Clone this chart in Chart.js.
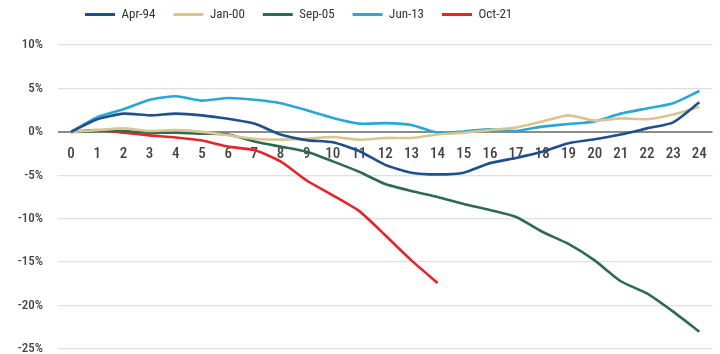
<!DOCTYPE html>
<html>
<head>
<meta charset="utf-8">
<script src="https://cdn.jsdelivr.net/npm/chart.js@4/dist/chart.umd.min.js"></script>
<style>
  html, body { margin: 0; padding: 0; background: #fff; }
  #wrap { width: 720px; height: 354px; position: relative; }
</style>
</head>
<body>
<div id="wrap"><canvas id="c"></canvas></div>
<script>
// Months since the start of each episode
const months = ['0','1','2','3','4','5','6','7','8','9','10','11','12','13','14','15','16','17','18','19','20','21','22','23','24'];

// Cumulative change (%) for each episode
const apr94 = [0, 1.45, 2.1, 1.9, 2.1, 1.9, 1.5, 0.95, -0.3, -0.95, -1.2, -2.2, -3.8, -4.7, -4.9, -4.7, -3.6, -3.0, -2.3, -1.3, -0.85, -0.3, 0.4, 1.1, 3.4];
const jan00 = [0, 0.2, 0.4, 0.1, 0.2, 0.0, -0.4, -0.8, -0.9, -0.8, -0.6, -0.9, -0.7, -0.7, -0.3, -0.1, 0.2, 0.5, 1.2, 1.9, 1.3, 1.55, 1.45, 2.0, 2.9];
const sep05 = [0, 0.1, 0.1, -0.1, -0.1, -0.2, -0.3, -1.1, -1.7, -2.3, -3.4, -4.6, -6.0, -6.8, -7.5, -8.3, -9.0, -9.8, -11.5, -12.9, -14.8, -17.2, -18.6, -20.7, -23.0];
const jun13 = [0, 1.7, 2.6, 3.7, 4.1, 3.6, 3.9, 3.7, 3.3, 2.5, 1.6, 0.95, 1.0, 0.8, -0.1, 0.05, 0.3, 0.1, 0.6, 0.9, 1.2, 2.1, 2.7, 3.3, 4.7];
const oct21 = [0, 0.2, -0.1, -0.4, -0.65, -1.0, -1.7, -2.1, -3.4, -5.6, -7.3, -9.1, -11.9, -14.8, -17.4];

const seriesNames = ['Apr-94', 'Jan-00', 'Sep-05', 'Jun-13', 'Oct-21'];
const seriesColors = ['#1f4f8d', '#d8c592', '#2f6b50', '#2aa7d6', '#e3262a'];
const seriesValues = [apr94, jan00, sep05, jun13, oct21];

// y-axis range and step (%)
const yMin = -25, yMax = 10, yStep = 5;

const FONT = "'Roboto Condensed', 'Liberation Sans Narrow', 'DejaVu Sans Condensed', Roboto, sans-serif";

// Places the legend row at a fixed spot above the plot
const legendPlacer = {
  id: 'legendPlacer',
  afterLayout(chart) {
    const lg = chart.legend;
    if (!lg) return;
    lg.left = 67;
    lg.top = -10;
  }
};

new Chart(document.getElementById('c'), {
  type: 'line',
  data: {
    labels: months,
    datasets: seriesValues.map((vals, i) => ({
      label: seriesNames[i],
      data: vals,
      borderColor: seriesColors[i],
      backgroundColor: seriesColors[i],
      borderWidth: 2.6,
      pointRadius: 0,
      tension: 0.2,
      fill: false
    }))
  },
  options: {
    responsive: true,
    maintainAspectRatio: false,
    animation: false,
    layout: { padding: { top: 4, right: 7, bottom: 5, left: 0 } },
    plugins: {
      tooltip: { enabled: false },
      legend: {
        position: 'top',
        align: 'start',
        labels: {
          boxWidth: 30,
          boxHeight: 3,
          padding: 18,
          color: '#333',
          font: { family: FONT, size: 13 },
          generateLabels(chart) {
            return Chart.defaults.plugins.legend.labels.generateLabels(chart).map(l => {
              l.fillStyle = l.strokeStyle;
              l.lineWidth = 0;
              return l;
            });
          }
        }
      }
    },
    scales: {
      x: {
        type: 'category',
        offset: true,
        position: { y: 0 },
        afterFit(scale) {
          // the month labels sit inside the plot, under the zero line
          scale.height = 0;
          scale.paddingTop = 0;
          scale.paddingBottom = 0;
        },
        grid: { display: false, drawTicks: false },
        border: { display: false },
        ticks: {
          color: '#444',
          padding: 13,
          autoSkip: false,
          maxRotation: 0,
          font: { family: FONT, size: 15, weight: '500' }
        }
      },
      y: {
        min: yMin,
        max: yMax,
        afterFit(scale) {
          scale.width = 58;
          scale.paddingBottom = 0;
        },
        border: { display: false },
        grid: {
          drawTicks: false,
          color: ctx => (ctx.tick && ctx.tick.value === 0) ? '#8c8c8c' : '#e0e0e0',
          lineWidth: ctx => (ctx.tick && ctx.tick.value === 0) ? 2 : 1.3
        },
        ticks: {
          stepSize: yStep,
          padding: 15,
          color: '#444',
          font: { family: FONT, size: 13, weight: '500' },
          callback: v => v + '%'
        }
      }
    }
  },
  plugins: [legendPlacer]
});
</script>
</body>
</html>
